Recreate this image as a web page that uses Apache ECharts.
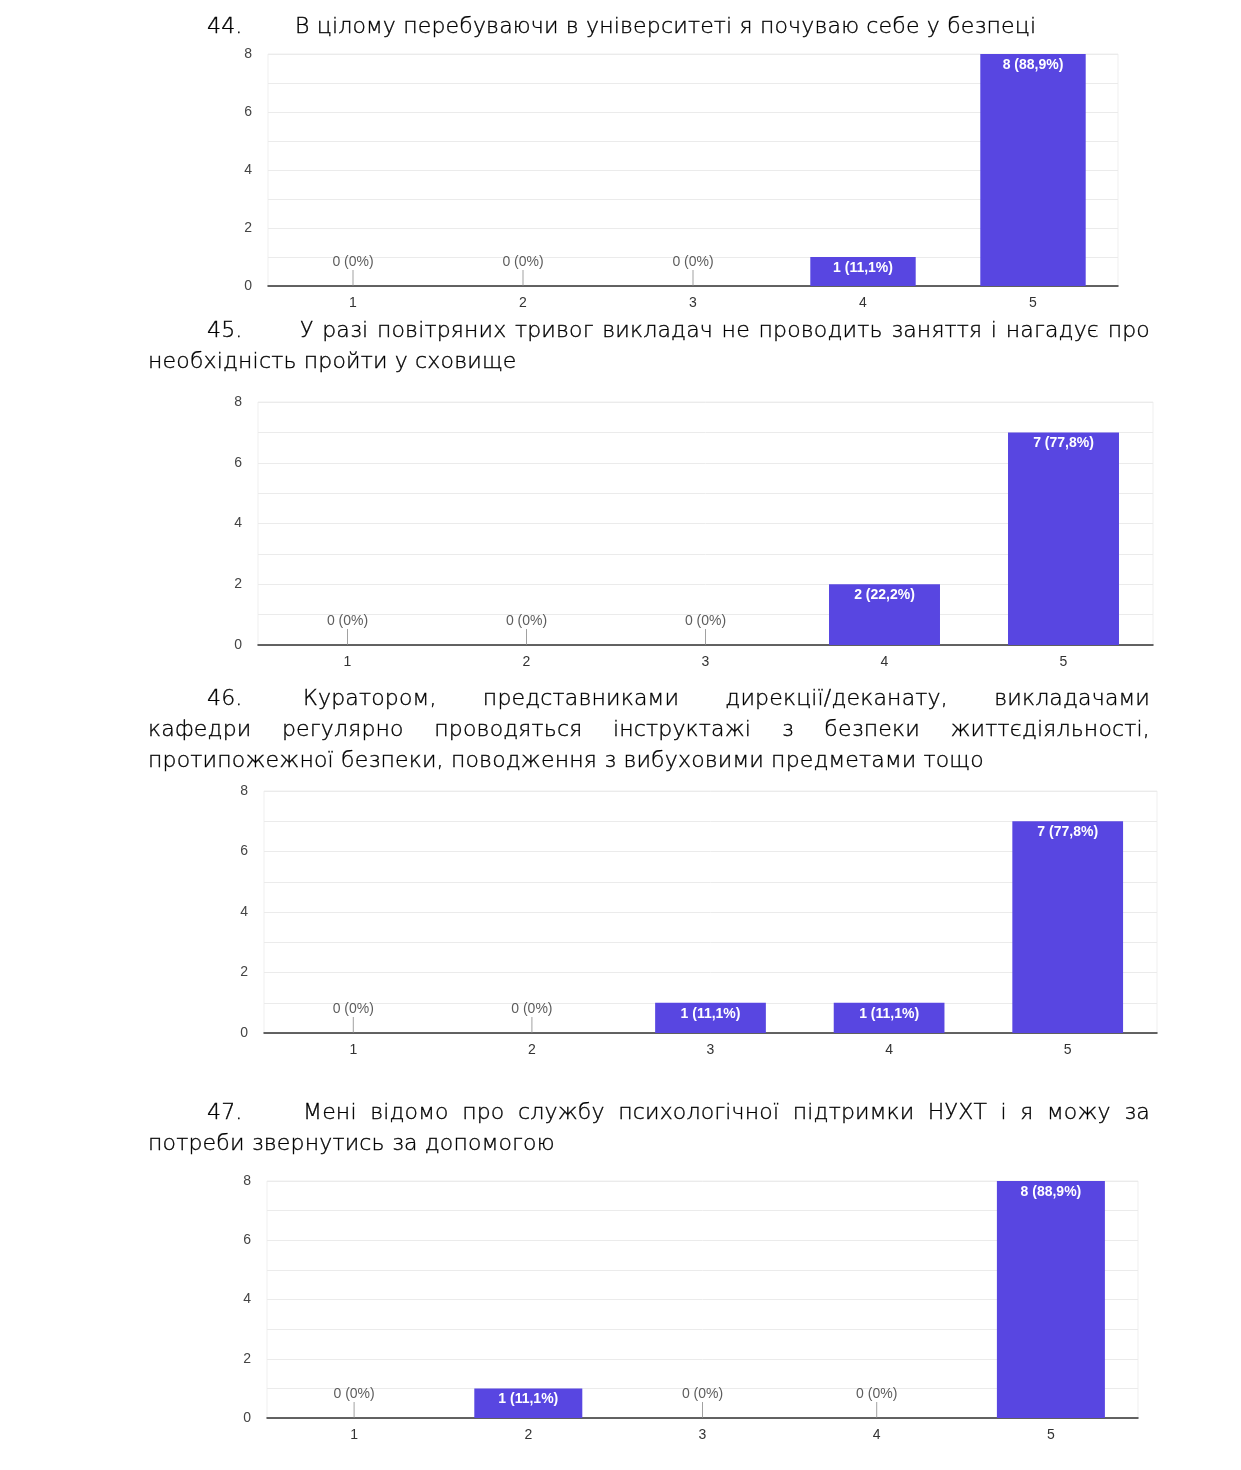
<!DOCTYPE html>
<html>
<head>
<meta charset="utf-8">
<script src="https://cdn.jsdelivr.net/npm/echarts@6/dist/echarts.min.js"></script>
<style>
  html, body { margin:0; padding:0; background:#fff; }
  #wrap { position:relative; width:1241px; height:1470px; }
  #chart { position:absolute; left:0; top:0; width:1241px; height:1470px; }
  .q { position:absolute; left:148px; width:1002px; font-family:"DejaVu Sans", sans-serif; font-weight:200; font-size:22px; letter-spacing:0.17px; line-height:31px; color:#000; -webkit-text-stroke:0.35px #000; }
  .ln { white-space:nowrap; text-align:left; }
  .j { text-align:justify; text-align-last:justify; white-space:normal; }
  .num { display:inline-block; margin-left:59px; }
</style>
</head>
<body>
<div id="wrap">
  <div id="chart"></div>
  <div id="titles"></div>
</div>
<script>
const categories = ['1', '2', '3', '4', '5'];
const q44Values = [0, 0, 0, 1, 8];
const q45Values = [0, 0, 0, 2, 7];
const q46Values = [0, 0, 1, 1, 7];
const q47Values = [0, 1, 0, 0, 8];
const yMax = 8;
const yInterval = 1;

const q44Number = '44.';
const q44Lines = ['В цілому перебуваючи в університеті я почуваю себе у безпеці'];
const q45Number = '45.';
const q45Lines = ['У разі повітряних тривог викладач не проводить заняття і нагадує про', 'необхідність пройти у сховище'];
const q46Number = '46.';
const q46Lines = ['Куратором, представниками дирекції/деканату, викладачами', 'кафедри регулярно проводяться інструктажі з безпеки життєдіяльності,', 'протипожежної безпеки, поводження з вибуховими предметами тощо'];
const q47Number = '47.';
const q47Lines = ['Мені відомо про службу психологічної підтримки НУХТ і я можу за', 'потреби звернутись за допомогою'];

// layout (positions only)
const layouts = [
  { values: q44Values, num: q44Number, lines: q44Lines, titleTop: 10, numW: 88, grid: { left: 268, right: 123, top: 54, height: 232 } },
  { values: q45Values, num: q45Number, lines: q45Lines, titleTop: 314, numW: 93, grid: { left: 258, right: 88, top: 402, height: 243 } },
  { values: q46Values, num: q46Number, lines: q46Lines, titleTop: 682, numW: 96, grid: { left: 264, right: 84, top: 791, height: 242 } },
  { values: q47Values, num: q47Number, lines: q47Lines, titleTop: 1096, numW: 96, grid: { left: 267, right: 103, top: 1181, height: 237 } }
];

// titles
const tEl = document.getElementById('titles');
layouts.forEach(L => {
  const d = document.createElement('div');
  d.className = 'q';
  d.style.top = L.titleTop + 'px';
  L.lines.forEach((txt, i) => {
    const line = document.createElement('div');
    const last = i === L.lines.length - 1;
    line.className = last ? 'ln' : 'ln j';
    if (i === 0) {
      const n = document.createElement('span');
      n.className = 'num';
      n.style.width = L.numW + 'px';
      n.textContent = L.num;
      line.appendChild(n);
      if (!last) {
        line.style.display = 'flex';
        const s = document.createElement('span');
        s.style.flex = '1';
        s.style.textAlign = 'justify';
        s.style.textAlignLast = 'justify';
        s.textContent = txt;
        line.appendChild(s);
      } else {
        line.appendChild(document.createTextNode(txt));
      }
    } else {
      line.textContent = txt;
    }
    d.appendChild(line);
  });
  tEl.appendChild(d);
});

const BAR = '#5846e1';
const FONT = '"Liberation Sans", Arial, sans-serif';
function fmt(v, total) {
  if (v === 0) return '0 (0%)';
  return v + ' (' + (v / total * 100).toFixed(1).replace('.', ',') + '%)';
}

const grids = [], xAxes = [], yAxes = [], series = [];
layouts.forEach((L, gi) => {
  const total = L.values.reduce((a, b) => a + b, 0);
  grids.push(Object.assign({ show: true, borderColor: '#efefef', borderWidth: 1, backgroundColor: 'transparent' }, L.grid));
  xAxes.push({
    type: 'category', gridIndex: gi, data: categories,
    axisLine: { lineStyle: { color: '#333', width: 1.5 } },
    axisTick: { show: false },
    axisLabel: { color: '#333', fontSize: 14, fontFamily: FONT, margin: 10 }
  });
  yAxes.push({
    type: 'value', gridIndex: gi, min: 0, max: yMax, interval: yInterval,
    axisLine: { show: false }, axisTick: { show: false },
    splitLine: { lineStyle: { color: '#ebebeb', width: 1 } },
    axisLabel: { color: '#444', fontSize: 14, fontFamily: FONT, margin: 16,
      formatter: v => (v % 2 === 0 ? String(v) : '') }
  });
  series.push({
    type: 'bar', xAxisIndex: gi, yAxisIndex: gi, data: L.values,
    barCategoryGap: '38%',
    itemStyle: { color: BAR },
    label: { show: true, position: 'insideTop', distance: 4, color: '#fff', fontSize: 14, fontWeight: 'bold',
      fontFamily: FONT,
      formatter: p => (p.value === 0 ? '' : fmt(p.value, total)) },
    silent: true, animation: false
  });
  series.push({
    type: 'scatter', xAxisIndex: gi, yAxisIndex: gi,
    data: L.values.map((v, i) => (v === 0 ? [i, v] : null)).filter(x => x),
    symbol: 'rect', symbolSize: [1, 16], symbolOffset: [0, -8],
    itemStyle: { color: '#8a8a8a' },
    label: { show: true, position: 'top', distance: 1, color: '#333', fontSize: 14,
      fontFamily: FONT, formatter: p => fmt(p.value[1], total) },
    silent: true, animation: false, z: 5
  });
});

const chart = echarts.init(document.getElementById('chart'), null, { renderer: 'canvas' });
chart.setOption({ animation: false, grid: grids, xAxis: xAxes, yAxis: yAxes, series: series });
</script>
</body>
</html>
